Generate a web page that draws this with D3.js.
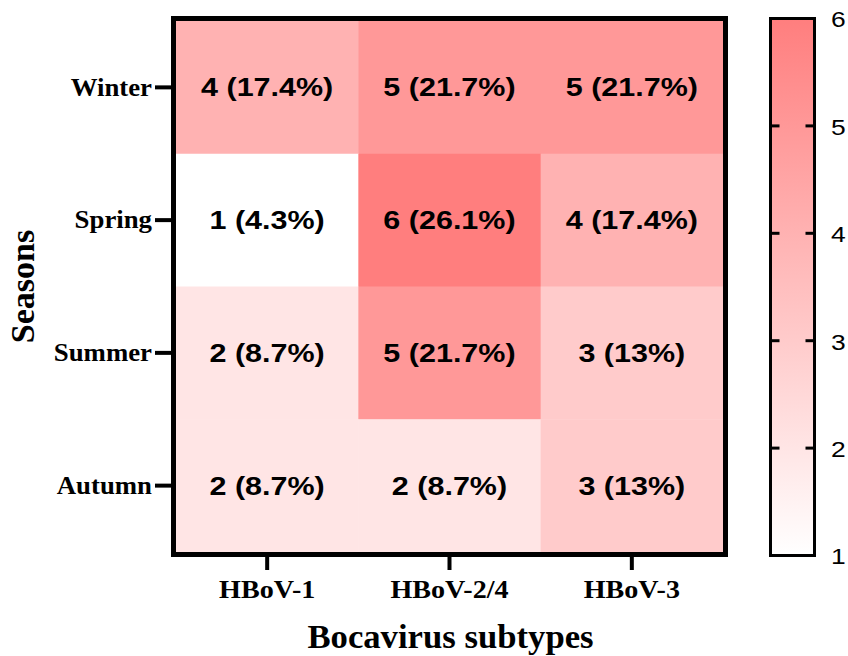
<!DOCTYPE html>
<html>
<head>
<meta charset="utf-8">
<script src="https://cdn.jsdelivr.net/npm/d3@7"></script>
<style>
  html, body { margin: 0; padding: 0; background: #fff; }
  svg { display: block; }
</style>
</head>
<body>
<svg id="chart" width="848" height="656"></svg>
<script>
// HBoV detections by subtype and season
const subtypes = ["HBoV-1", "HBoV-2/4", "HBoV-3"];
const seasons = ["Winter", "Spring", "Summer", "Autumn"];
// counts[season][subtype]
const counts = [
  [4, 5, 5],
  [1, 6, 4],
  [2, 5, 3],
  [2, 2, 3]
];
const percents = [
  ["17.4%", "21.7%", "21.7%"],
  ["4.3%", "26.1%", "17.4%"],
  ["8.7%", "21.7%", "13%"],
  ["8.7%", "8.7%", "13%"]
];
const colorTicks = [1, 2, 3, 4, 5, 6];

const svg = d3.select("#chart");

// widen glyphs horizontally while keeping the anchor point
function widen(sel, k) {
  sel.each(function () {
    const w = this.getComputedTextLength();
    d3.select(this).attr("textLength", w * k).attr("lengthAdjust", "spacingAndGlyphs");
  });
}

const plot = { left: 176, right: 723, top: 21, bottom: 552 };
const x = d3.scaleBand().domain(subtypes).range([plot.left, plot.right]);
const y = d3.scaleBand().domain(seasons).range([plot.top, plot.bottom]);
const color = d3.scaleLinear().domain([1, 6]).range(["#ffffff", "#ff7e7e"]);

const cells = [];
seasons.forEach((s, i) => subtypes.forEach((t, j) => {
  cells.push({ season: s, subtype: t, value: counts[i][j], pct: percents[i][j] });
}));

// heatmap cells
svg.append("g").selectAll("rect").data(cells).join("rect")
  .attr("x", d => x(d.subtype))
  .attr("y", d => y(d.season))
  .attr("width", x.bandwidth() + 0.5)
  .attr("height", y.bandwidth() + 0.5)
  .attr("fill", d => color(d.value));

// cell labels
const cellText = svg.append("g").selectAll("text").data(cells).join("text")
  .attr("x", d => x(d.subtype) + x.bandwidth() / 2)
  .attr("y", d => y(d.season) + y.bandwidth() / 2)
  .attr("dy", "0.36em")
  .attr("text-anchor", "middle")
  .style("font-family", "'Liberation Sans', Arial, sans-serif")
  .style("font-weight", "bold")
  .style("font-size", "25px")
  .attr("fill", "#000")
  .text(d => `${d.value} (${d.pct})`);
widen(cellText, 1.22);

// frame
svg.append("rect")
  .attr("x", plot.left - 2.5).attr("y", plot.top - 2.5)
  .attr("width", plot.right - plot.left + 5).attr("height", plot.bottom - plot.top + 5)
  .attr("fill", "none").attr("stroke", "#000").attr("stroke-width", 5);

const serif = "'Liberation Serif', 'Times New Roman', serif";

// y axis
const yAxis = svg.append("g")
  .attr("transform", `translate(${plot.left - 5},0)`)
  .call(d3.axisLeft(y).tickSize(16).tickPadding(3));
yAxis.select(".domain").remove();
yAxis.selectAll(".tick line").attr("stroke", "#000").attr("stroke-width", 4);
const yText = yAxis.selectAll(".tick text")
  .style("font-family", serif).style("font-weight", "bold").style("font-size", "26px")
  .attr("fill", "#000");
widen(yText, 1.03);

// x axis
const xAxis = svg.append("g")
  .attr("transform", `translate(0,${plot.bottom + 5})`)
  .call(d3.axisBottom(x).tickSize(13).tickPadding(10));
xAxis.select(".domain").remove();
xAxis.selectAll(".tick line").attr("stroke", "#000").attr("stroke-width", 4);
const xText = xAxis.selectAll(".tick text")
  .style("font-family", serif).style("font-weight", "bold").style("font-size", "26px")
  .attr("fill", "#000");
widen(xText, 1.08);

// axis titles
const xTitle = svg.append("text")
  .attr("x", (plot.left + plot.right) / 2 + 1).attr("y", 648)
  .attr("text-anchor", "middle")
  .style("font-family", serif).style("font-weight", "bold").style("font-size", "34px")
  .text("Bocavirus subtypes");
widen(xTitle, 1.02);

svg.append("text")
  .attr("transform", `translate(34,${(plot.top + plot.bottom) / 2}) rotate(-90)`)
  .attr("text-anchor", "middle")
  .style("font-family", serif).style("font-weight", "bold").style("font-size", "34px")
  .text("Seasons");

// colour bar
const bar = { left: 770.5, right: 814.5, top: 18.5, bottom: 555.5 };
const cy = d3.scaleLinear().domain([1, 6]).range([bar.bottom, bar.top]);

const defs = svg.append("defs");
const grad = defs.append("linearGradient").attr("id", "cbar")
  .attr("x1", 0).attr("y1", 1).attr("x2", 0).attr("y2", 0);
grad.selectAll("stop").data(colorTicks).join("stop")
  .attr("offset", d => (d - 1) / 5)
  .attr("stop-color", d => color(d));

svg.append("rect")
  .attr("x", bar.left).attr("y", bar.top)
  .attr("width", bar.right - bar.left).attr("height", bar.bottom - bar.top)
  .attr("fill", "url(#cbar)").attr("stroke", "#000").attr("stroke-width", 3);

// inward ticks on both sides of the bar
const inner = colorTicks.slice(1, -1);
svg.append("g").selectAll("line.l").data(inner).join("line")
  .attr("x1", bar.left).attr("x2", bar.left + 9)
  .attr("y1", d => cy(d)).attr("y2", d => cy(d))
  .attr("stroke", "#000").attr("stroke-width", 3);
svg.append("g").selectAll("line.r").data(inner).join("line")
  .attr("x1", bar.right - 9).attr("x2", bar.right)
  .attr("y1", d => cy(d)).attr("y2", d => cy(d))
  .attr("stroke", "#000").attr("stroke-width", 3);

const cText = svg.append("g").selectAll("text").data(colorTicks).join("text")
  .attr("x", 831)
  .attr("y", d => cy(d))
  .attr("dy", "0.4em")
  .style("font-family", "'Liberation Sans', Arial, sans-serif")
  .style("font-size", "22px")
  .attr("fill", "#000")
  .text(d => d);
widen(cText, 1.2);
</script>
</body>
</html>
